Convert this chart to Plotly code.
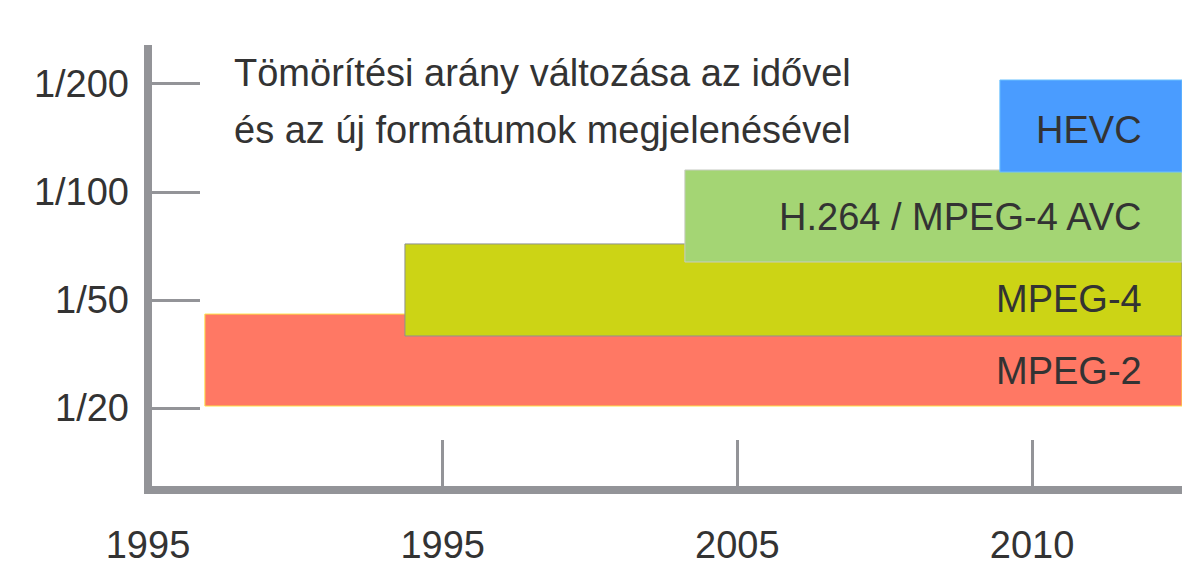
import plotly.graph_objects as go

# ---- data ----
formats = ["MPEG-2", "MPEG-4", "H.264 / MPEG-4 AVC", "HEVC"]
colors = ["#FF7864", "#CCD415", "#A4D574", "#4A9CFF"]
borders = ["#FFE24A", "#8E9090", "#C8CCC4", "#6CC2FF"]
# x positions on the (evenly spaced) time axis
start_pos = [0.193, 0.872, 1.822, 2.891]
end_pos = [3.509, 3.509, 3.509, 3.509]
# y positions on the (evenly spaced) compression-ratio axis
ratio_low = [0.0185, 0.667, 1.352, 2.185]
ratio_high = [0.870, 1.519, 2.204, 3.037]

x_ticks = [0, 1, 2, 3]
x_labels = ["1995", "1995", "2005", "2010"]
y_ticks = [0, 1, 2, 3]
y_labels = ["1/20", "1/50", "1/100", "1/200"]

title_lines = ["Tömörítési arány változása az idővel",
               "és az új formátumok megjelenésével"]

FONT = "Liberation Sans"
TXT = "#333333"
AX = "#939498"
FS = 38

# page body has an 8px default margin -> figure is offset by 8px
W, H = 1192, 572
ml, mr, mt, mb = 140, 18, 37, 94
pw, ph = W - ml - mr, H - mt - mb

fig = go.Figure()
for i, name in enumerate(formats):
    fig.add_trace(go.Bar(
        orientation="h",
        y=[(ratio_low[i] + ratio_high[i]) / 2],
        width=[ratio_high[i] - ratio_low[i]],
        base=[start_pos[i]],
        x=[end_pos[i] - start_pos[i]],
        marker=dict(color=colors[i], line=dict(color=borders[i], width=1)),
        name=name,
        hoverinfo="name",
        showlegend=False,
    ))
    # label: centred in the visible part of the box
    if i + 1 < len(formats):
        yc = (ratio_low[i] + ratio_low[i + 1]) / 2
    else:
        yc = (ratio_low[i] + ratio_high[i]) / 2
    fig.add_annotation(
        x=end_pos[i], y=yc, xref="x", yref="y",
        text=name, showarrow=False, xanchor="right", yanchor="middle",
        xshift=-38, yshift=(-4 if i + 1 == len(formats) else 0),
        font=dict(family=FONT, size=FS, color=TXT),
    )

title_px = [(224, 65), (224, 122)]
for j, line in enumerate(title_lines):
    px, py = title_px[j]
    fig.add_annotation(
        x=(px - ml) / pw, y=1 - (py - mt) / ph, xref="paper", yref="paper",
        text=line, showarrow=False, xanchor="left", yanchor="middle",
        font=dict(family=FONT, size=FS, color=TXT),
    )

# thick vertical axis line (drawn on top so it hides the tick at the origin)
fig.add_shape(
    type="line", xref="paper", yref="paper",
    x0=0, x1=0, y0=-8 / ph, y1=1,
    line=dict(color=AX, width=8), layer="above",
)

fig.update_layout(
    width=W, height=H,
    margin=dict(l=ml, r=mr, t=mt, b=mb, pad=0),
    paper_bgcolor="white", plot_bgcolor="white",
    barmode="overlay",
    font=dict(family=FONT, color=TXT),
    xaxis=dict(
        range=[0, 3.509], showgrid=False, zeroline=False,
        showline=True, linewidth=8, linecolor=AX,
        tickmode="array", tickvals=x_ticks, ticktext=x_labels,
        ticks="inside", ticklen=46, tickwidth=3, tickcolor=AX,
        tickfont=dict(family=FONT, size=FS, color=TXT),
        ticklabelstandoff=18, fixedrange=True,
    ),
    yaxis=dict(
        range=[-0.722, 3.361], showgrid=False, zeroline=False,
        showline=False,
        tickmode="array", tickvals=y_ticks, ticktext=y_labels,
        ticks="inside", ticklen=52, tickwidth=3, tickcolor=AX,
        tickfont=dict(family=FONT, size=FS, color=TXT),
        ticklabelstandoff=18, fixedrange=True,
    ),
)

fig.write_html("out.html")
